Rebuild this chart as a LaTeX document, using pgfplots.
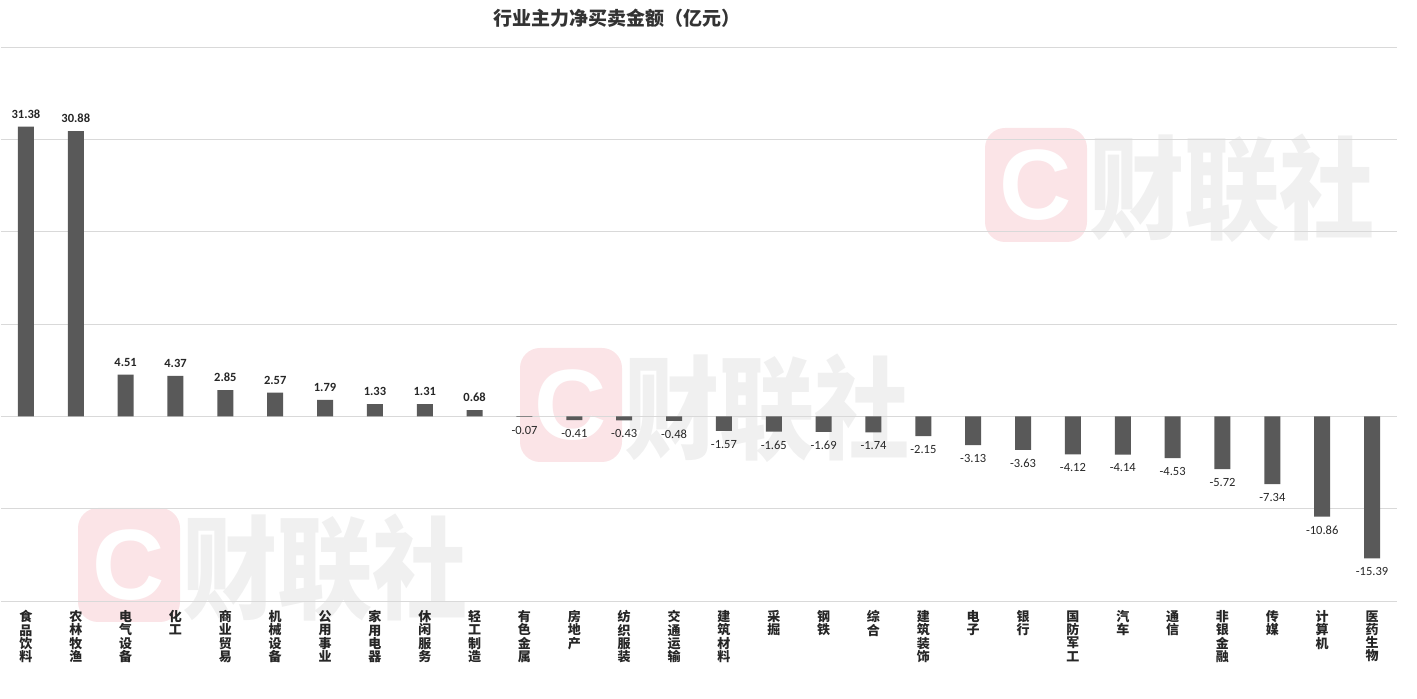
\documentclass[border=0pt]{standalone}
\usepackage{fontspec}
\setmainfont{Carlito}
\newfontfamily\cjk{Noto Sans CJK SC}
\newfontfamily\sansb{Liberation Sans}
\usepackage{pgfplots}
\pgfplotsset{compat=1.18}
\definecolor{barc}{HTML}{595959}
\definecolor{gridc}{HTML}{D9D9D9}
\definecolor{wmpink}{HTML}{FBE4E7}
\definecolor{wmgrey}{HTML}{F0F0F0}
\pgfplotstableread{
x y
0 31.38
1 30.88
2 4.51
3 4.37
4 2.85
5 2.57
6 1.79
7 1.33
8 1.31
9 0.68
}\pos
\pgfplotstableread{
x y
10 -0.07
11 -0.41
12 -0.43
13 -0.48
14 -1.57
15 -1.65
16 -1.69
17 -1.74
18 -2.15
19 -3.13
20 -3.63
21 -4.12
22 -4.14
23 -4.53
24 -5.72
25 -7.34
26 -10.86
27 -15.39
}\nega
\newcommand{\wm}[2]{%
  \fill[wmpink,rounded corners=20pt] (#1pt,#2pt) rectangle ++(102pt,114pt);
  \node[text=white,font=\sansb\bfseries\fontsize{100}{100}\selectfont,inner sep=0pt] at ($(#1pt,#2pt)+(51pt,57pt)$) {C};
  \node[text=wmgrey,font=\cjk\bfseries\fontsize{112}{112}\selectfont,inner sep=0pt,xscale=0.85] at ($(#1pt,#2pt)+(247pt,54pt)$) {财联社};
}
\usetikzlibrary{calc}
\begin{document}
\begin{tikzpicture}
\useasboundingbox (0,0) rectangle (1417pt,699pt);
\wm{985}{457}
\wm{520}{237}
\wm{78}{77}
\node[font=\cjk\bfseries\fontsize{19}{19}\selectfont,text=black!80,inner sep=0pt] at (617pt,681pt) {行业主力净买卖金额（亿元）};
\begin{axis}[
  at={(1pt,98pt)}, anchor=south west,
  scale only axis, width=1396pt, height=554pt,
  xmin=-0.5, xmax=27.5, ymin=-20, ymax=40,
  ytick={-20,-10,...,40}, yticklabels={},
  ymajorgrids, major grid style={draw=gridc, line width=0.8pt},
  axis line style={draw=none}, tick style={draw=none},
  xtick={0,...,27},
  xticklabels={{食\\品\\饮\\料},{农\\林\\牧\\渔},{电\\气\\设\\备},{化\\工},{商\\业\\贸\\易},{机\\械\\设\\备},{公\\用\\事\\业},{家\\用\\电\\器},{休\\闲\\服\\务},{轻\\工\\制\\造},{有\\色\\金\\属},{房\\地\\产},{纺\\织\\服\\装},{交\\通\\运\\输},{建\\筑\\材\\料},{采\\掘},{钢\\铁},{综\\合},{建\\筑\\装\\饰},{电\\子},{银\\行},{国\\防\\军\\工},{汽\\车},{通\\信},{非\\银\\金\\融},{传\\媒},{计\\算\\机},{医\\药\\生\\物}},
  xticklabel style={font=\cjk\bfseries\fontsize{13}{13.3}\selectfont, align=center, anchor=north, inner sep=0pt, text=black!85},
  xticklabel shift=5pt,
  ybar, bar width=16pt, bar shift=0pt,
  point meta=y,
  nodes near coords={\pgfmathprintnumber[fixed,fixed zerofill,precision=2,assume math mode=true]{\pgfplotspointmeta}},
  clip=false,
]
\addplot[fill=barc, draw=none, nodes near coords style={font=\bfseries\fontsize{12.5}{12.5}\selectfont, text=black!85, anchor=south, inner sep=0pt, yshift=8pt}] table[x=x,y=y] {\pos};
\addplot[fill=barc, draw=none, nodes near coords style={font=\fontsize{12.5}{12.5}\selectfont, text=black!85, anchor=north, inner sep=0pt, yshift=-9pt}] table[x=x,y=y] {\nega};
\end{axis}
\end{tikzpicture}
\end{document}
